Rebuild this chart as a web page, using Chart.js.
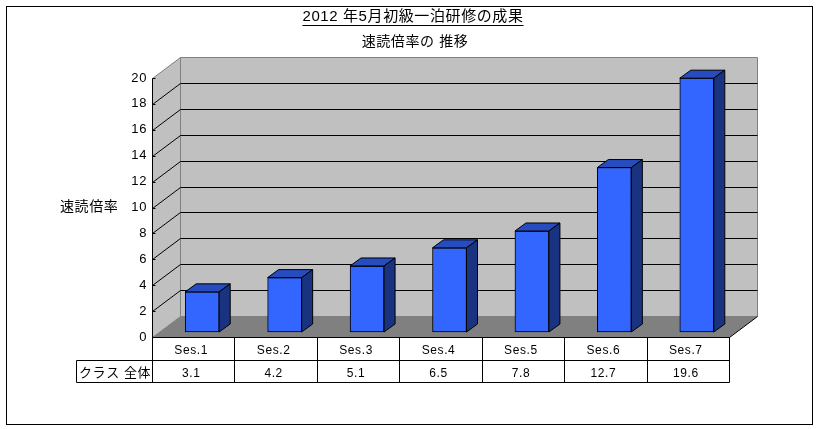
<!DOCTYPE html>
<html>
<head>
<meta charset="utf-8">
<script src="https://cdn.jsdelivr.net/npm/chart.js@4"></script>
<style>
html, body { margin: 0; padding: 0; background: #fff; }
canvas { display: block; }
</style>
</head>
<body>
<canvas id="seisekiChart" width="819" height="429"></canvas>
<script>
const sesiones = ['Ses.1', 'Ses.2', 'Ses.3', 'Ses.4', 'Ses.5', 'Ses.6', 'Ses.7'];
const valores = [3.1, 4.2, 5.1, 6.5, 7.8, 12.7, 19.6];
const valoresTexto = ['3.1', '4.2', '5.1', '6.5', '7.8', '12.7', '19.6'];

const titulo = '2012 年5月初級一泊研修の成果';
const subtitulo = '速読倍率の 推移';
const tituloEjeY = '速読倍率';
const filaTabla = 'クラス 全体';

const FUENTE = '"Liberation Sans", "Noto Sans CJK JP", sans-serif';

// profundidad de la pared y de las barras (efecto 3D)
const fondoX = 28, fondoY = 21;
const barraDX = 9, barraDY = 5;
const ladoX = 11, ladoY = 8;

function poligono(ctx, puntos, relleno, borde) {
    ctx.beginPath();
    puntos.forEach((p, i) => i ? ctx.lineTo(p[0], p[1]) : ctx.moveTo(p[0], p[1]));
    ctx.closePath();
    if (relleno) { ctx.fillStyle = relleno; ctx.fill(); }
    if (borde) { ctx.strokeStyle = borde; ctx.lineWidth = 1; ctx.stroke(); }
}

function linea(ctx, x1, y1, x2, y2, color) {
    ctx.beginPath();
    ctx.moveTo(x1, y1);
    ctx.lineTo(x2, y2);
    ctx.strokeStyle = color;
    ctx.lineWidth = 1;
    ctx.stroke();
}

const plugin3d = {
    id: 'plugin3d',
    beforeDraw(chart) {
        const { ctx, chartArea: a, scales: { y } } = chart;
        chart.ctx.letterSpacing = '0.6px';
        ctx.save();

        // paredes y suelo
        const l = a.left + 0.5, r = a.right + 0.5, b = a.bottom + 0.5, t = a.top + 0.5;
        poligono(ctx, [[l + fondoX, t - fondoY], [r + fondoX, t - fondoY], [r + fondoX, b - fondoY], [l + fondoX, b - fondoY]], '#C0C0C0', '#808080');
        poligono(ctx, [[l, t], [l + fondoX, t - fondoY], [l + fondoX, b - fondoY], [l, b]], '#C0C0C0', '#808080');
        poligono(ctx, [[l, b], [l + fondoX, b - fondoY], [r + fondoX, b - fondoY], [r, b]], '#808080');
        linea(ctx, r, b, r + fondoX, b - fondoY, '#000');

        // rejilla
        y.ticks.forEach(tick => {
            const py = Math.round(y.getPixelForValue(tick.value)) + 0.5;
            if (tick.value > 0 && tick.value < 20) {
                linea(ctx, l, py, l + fondoX, py - fondoY, '#000');
                linea(ctx, l + fondoX, py - fondoY, r + fondoX, py - fondoY, '#000');
            }
            linea(ctx, l, py, l + 3, py, '#000');
        });
        linea(ctx, l, t, l, b, '#000');
        ctx.restore();
    },
    beforeDatasetsDraw(chart) {
        chart.ctx.save();
        chart.ctx.translate(barraDX, -barraDY);
    },
    afterDatasetsDraw(chart) {
        const ctx = chart.ctx;
        chart.getDatasetMeta(0).data.forEach(bar => {
            const xi = bar.x - bar.width / 2, xd = bar.x + bar.width / 2;
            poligono(ctx, [[xi, bar.y], [xi + ladoX, bar.y - ladoY], [xd + ladoX, bar.y - ladoY], [xd, bar.y]], '#264CBF', '#000');
            poligono(ctx, [[xd, bar.y], [xd + ladoX, bar.y - ladoY], [xd + ladoX, bar.base - ladoY], [xd, bar.base]], '#1A3380', '#000');
        });
        ctx.restore();
    },
    afterDraw(chart) {
        const { ctx, chartArea: a, scales: { x } } = chart;
        ctx.save();

        // tabla de datos
        const fila1 = a.bottom + 23, fila2 = a.bottom + 45, izq = 76;
        const l = a.left + 0.5, r = a.right + 0.5;
        linea(ctx, l, a.bottom + 0.5, r, a.bottom + 0.5, '#000');
        linea(ctx, izq + 0.5, fila1 + 0.5, r, fila1 + 0.5, '#000');
        linea(ctx, izq + 0.5, fila2 + 0.5, r, fila2 + 0.5, '#000');
        linea(ctx, izq + 0.5, fila1 + 0.5, izq + 0.5, fila2 + 0.5, '#000');
        sesiones.forEach((s, i) => {
            const px = Math.round(x.getPixelForValue(i) - x.width / sesiones.length / 2) + 0.5;
            linea(ctx, px, a.bottom, px, fila2 + 0.5, '#000');
        });
        linea(ctx, r, a.bottom, r, fila2 + 0.5, '#000');

        // textos
        ctx.fillStyle = '#000';
        ctx.textBaseline = 'middle';
        ctx.textAlign = 'left';
        ctx.font = '13px ' + FUENTE;
        ctx.fillText(filaTabla, izq + 3, a.bottom + 36);
        ctx.font = '14px ' + FUENTE;
        ctx.fillText(tituloEjeY, 60, 207);

        ctx.textAlign = 'center';
        ctx.fillText(subtitulo, 415, 42);
        ctx.font = '15px ' + FUENTE;
        ctx.fillText(titulo, 413, 17);
        const ancho = ctx.measureText(titulo).width;
        linea(ctx, 413 - ancho / 2, 25.5, 413 + ancho / 2, 25.5, '#000');

        // marco exterior
        ctx.strokeStyle = '#000';
        ctx.lineWidth = 1;
        ctx.strokeRect(6.5, 6.5, 806, 418);
        ctx.restore();
    }
};

const ctx = document.getElementById('seisekiChart').getContext('2d');

new Chart(ctx, {
    type: 'bar',
    data: {
        labels: sesiones,
        datasets: [{
            label: filaTabla,
            data: valores,
            backgroundColor: '#3366FF',
            borderColor: '#000',
            borderWidth: 1,
            borderSkipped: false,
            barThickness: 34,
            clip: false
        }]
    },
    options: {
        responsive: false,
        animation: false,
        events: [],
        layout: { padding: { top: 78, right: 90, bottom: 0, left: 0 } },
        plugins: {
            legend: { display: false },
            title: { display: false },
            tooltip: { enabled: false }
        },
        scales: {
            x: {
                afterFit: s => { s.height = 92; },
                grid: { display: false, drawTicks: false },
                border: { display: false },
                ticks: {
                    color: '#000',
                    padding: 3,
                    labelOffset: -2,
                    maxRotation: 0,
                    font: { family: FUENTE, size: 12, lineHeight: 1.85 },
                    callback: (v, i) => [sesiones[i], valoresTexto[i]]
                }
            },
            y: {
                min: 0,
                max: 20,
                afterFit: s => { s.width = 152; },
                grid: { display: false, drawTicks: false },
                border: { display: false },
                ticks: {
                    stepSize: 2,
                    color: '#000',
                    padding: 5,
                    font: { family: FUENTE, size: 13 }
                }
            }
        }
    },
    plugins: [plugin3d]
});
</script>
</body>
</html>
